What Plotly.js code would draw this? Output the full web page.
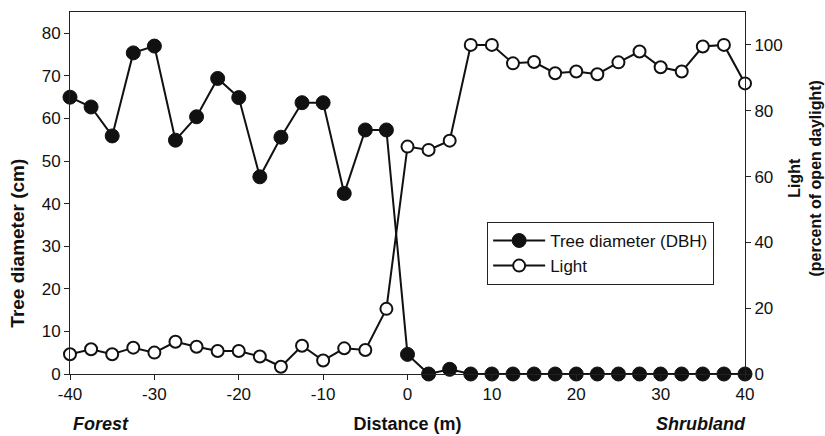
<!DOCTYPE html>
<html>
<head>
<meta charset="utf-8">
<script src="https://cdn.plot.ly/plotly-3.0.1.min.js"></script>
<style>html,body{margin:0;padding:0;background:#fff;}#chart{width:825px;height:436px;}</style>
</head>
<body>
<div id="chart"></div>
<script>
// Distance along transect (m)
const distance = [-40,-37.5,-35,-32.5,-30,-27.5,-25,-22.5,-20,-17.5,-15,-12.5,-10,-7.5,-5,-2.5,0,2.5,5,7.5,10,12.5,15,17.5,20,22.5,25,27.5,30,32.5,35,37.5,40];
// Tree diameter (DBH), cm
const treeDiameter = [65,62.7,55.9,75.4,77,54.9,60.4,69.4,64.9,46.3,55.6,63.7,63.7,42.4,57.3,57.3,4.6,0,1.1,0,0,0,0,0,0,0,0,0,0,0,0,0,0];
// Light, percent of open daylight
const lightPct = [6,7.5,6,8,6.5,9.8,8.3,7,7,5.3,2.2,8.6,4.1,7.8,7.3,19.8,69.1,68.1,70.9,100,100,94.4,94.8,91.4,91.9,91.1,94.7,98,93.2,91.9,99.5,100,88.3];
const xTicks = [-40,-30,-20,-10,0,10,20,30,40];
const leftTicks = [0,10,20,30,40,50,60,70,80];
const rightTicks = [0,20,40,60,80,100];

const FONT = 'Liberation Sans, Arial, sans-serif';

const traces = [
  {
    x: distance, y: treeDiameter, name: 'Tree diameter (DBH)', type: 'scatter', mode: 'lines+markers',
    line: {color: '#111', width: 2},
    marker: {color: '#111', size: 14, line: {color: '#111', width: 1}},
    cliponaxis: false, xaxis: 'x', yaxis: 'y'
  },
  {
    x: distance, y: lightPct, name: 'Light', type: 'scatter', mode: 'lines+markers',
    line: {color: '#111', width: 2},
    marker: {color: '#fff', size: 12, line: {color: '#111', width: 2}},
    cliponaxis: false, xaxis: 'x', yaxis: 'y2'
  }
];

const axisCommon = {
  showgrid: false, zeroline: false, showline: true, linecolor: '#222', linewidth: 1,
  ticks: 'outside', ticklen: 5, tickwidth: 1, tickcolor: '#222',
  tickfont: {family: FONT, size: 17, color: '#111'}
};

const layout = {
  width: 825, height: 436,
  margin: {l: 70, r: 80, t: 12, b: 62},
  paper_bgcolor: '#fff', plot_bgcolor: '#fff',
  showlegend: true,
  font: {family: FONT, color: '#111'},
  xaxis: Object.assign({}, axisCommon, {
    range: [-40, 40], tickmode: 'array', tickvals: xTicks, ticktext: xTicks.map(String),
    mirror: true,
    title: {text: '<b>Distance (m)</b>', font: {family: FONT, size: 18, color: '#111'}, standoff: 13}
  }),
  yaxis: Object.assign({}, axisCommon, {
    range: [0, 85], tickmode: 'array', tickvals: leftTicks, ticktext: leftTicks.map(String)
  }),
  yaxis2: Object.assign({}, axisCommon, {
    range: [0, 110], overlaying: 'y', side: 'right', tickmode: 'array', tickvals: rightTicks, ticktext: rightTicks.map(String)
  }),
  legend: {
    x: 0.618, y: 0.42, xanchor: 'left', yanchor: 'top',
    bgcolor: '#fff', bordercolor: '#222', borderwidth: 1,
    font: {family: FONT, size: 17, color: '#111'},
    itemwidth: 52, tracegroupgap: 0
  },
  annotations: [
    {text: '<b>Tree diameter (cm)</b>', xref: 'paper', yref: 'paper', x: 0, xshift: -52, y: 0.36, textangle: -90,
     showarrow: false, font: {family: FONT, size: 19, color: '#111'}, xanchor: 'center', yanchor: 'middle'},
    {text: '<b>Light<br>(percent of open daylight)</b>', xref: 'paper', yref: 'paper', x: 1, xshift: 60, y: 0.54, textangle: -90,
     showarrow: false, font: {family: FONT, size: 16, color: '#111'}, xanchor: 'center', yanchor: 'middle'},
    {text: '<b><i>Forest</i></b>', xref: 'paper', yref: 'paper', x: 0.046, y: 0, yshift: -50,
     showarrow: false, font: {family: FONT, size: 18, color: '#111'}, xanchor: 'center', yanchor: 'middle'},
    {text: '<b><i>Shrubland</i></b>', xref: 'paper', yref: 'paper', x: 0.935, y: 0, yshift: -50,
     showarrow: false, font: {family: FONT, size: 18, color: '#111'}, xanchor: 'center', yanchor: 'middle'}
  ]
};

Plotly.newPlot('chart', traces, layout, {displayModeBar: false, staticPlot: true});
</script>
</body>
</html>
